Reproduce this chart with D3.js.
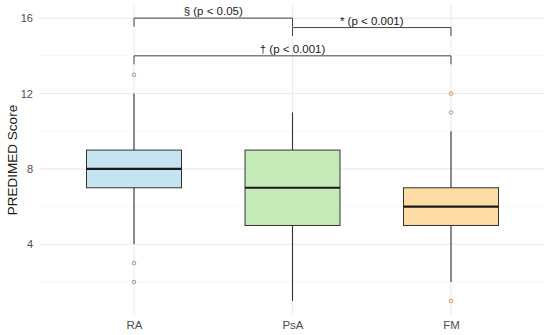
<!DOCTYPE html>
<html><head><meta charset="utf-8">
<script src="https://cdn.jsdelivr.net/npm/d3@7"></script>
<style>body{margin:0;background:#fff;} svg{display:block;font-family:"Liberation Sans",Arial,sans-serif;}</style>
</head><body>
<svg id="c" width="550" height="335"></svg>
<script>
const categories = ["RA", "PsA", "FM"];
const q1 = [7, 5, 5];
const medians = [8, 7, 6];
const q3 = [9, 9, 7];
const whiskerLow = [4, 1, 2];
const whiskerHigh = [12, 11, 10];
const outliers = [[13, 3, 2], [], [12, 11, 1]];
const fills = ["#c5e3f0", "#c6ebb9", "#fedaa4"];
const outlierColors = ["#7ea6b4", "", "#cf9a62"];
const yTicks = [4, 8, 12, 16];
const yMinor = [2, 6, 10, 14];
const brackets = [
  {from: "RA", to: "PsA", y: 16, label: "§ (p < 0.05)"},
  {from: "PsA", to: "FM", y: 15.5, label: "* (p < 0.001)"},
  {from: "RA", to: "FM", y: 14, label: "† (p < 0.001)"}
];

const svg = d3.select("#c");
const pL = 39, pR = 545, pT = 4, pB = 315;
const y = d3.scaleLinear().domain([0.25, 16.75]).range([pB, pT]);
const x = d3.scalePoint().domain(categories).range([134, 451]);
const boxW = 95;

// gridlines
svg.append("g").selectAll("line").data(yMinor).join("line")
  .attr("x1", pL).attr("x2", pR).attr("y1", d => y(d)).attr("y2", d => y(d))
  .attr("stroke", "#f2f2f2").attr("stroke-width", 0.6);
svg.append("g").selectAll("line").data(yTicks).join("line")
  .attr("x1", pL).attr("x2", pR).attr("y1", d => y(d)).attr("y2", d => y(d))
  .attr("stroke", "#ebebeb").attr("stroke-width", 1.1);
svg.append("g").selectAll("line").data(categories).join("line")
  .attr("x1", d => x(d)).attr("x2", d => x(d)).attr("y1", pT).attr("y2", pB)
  .attr("stroke", "#ebebeb").attr("stroke-width", 1.1);

// y axis labels
const yAxis = d3.axisLeft(y).tickValues(yTicks).tickSize(0).tickPadding(6);
const ga = svg.append("g").attr("transform", `translate(${pL},0)`).call(yAxis);
ga.select(".domain").remove();
ga.selectAll("text").attr("font-size", 11).attr("fill", "#4d4d4d").attr("font-family", "Liberation Sans, Arial, sans-serif");

const xAxis = d3.axisBottom(x).tickSize(0).tickPadding(6);
const gx = svg.append("g").attr("transform", `translate(0,${pB})`).call(xAxis);
gx.select(".domain").remove();
gx.selectAll("text").attr("font-size", 11.5).attr("fill", "#4d4d4d").attr("font-family", "Liberation Sans, Arial, sans-serif");

svg.append("text").attr("transform", `translate(17,160) rotate(-90)`)
  .attr("text-anchor", "middle").attr("font-size", 13.5).attr("fill", "#1a1a1a")
  .text("PREDIMED Score");

// boxes
const g = svg.append("g");
categories.forEach((c, i) => {
  const cx = x(c);
  g.append("line").attr("x1", cx).attr("x2", cx).attr("y1", y(whiskerHigh[i])).attr("y2", y(q3[i]))
    .attr("stroke", "#333").attr("stroke-width", 1.1);
  g.append("line").attr("x1", cx).attr("x2", cx).attr("y1", y(q1[i])).attr("y2", y(whiskerLow[i]))
    .attr("stroke", "#333").attr("stroke-width", 1.1);
  g.append("rect").attr("x", cx - boxW / 2).attr("width", boxW)
    .attr("y", y(q3[i])).attr("height", y(q1[i]) - y(q3[i]))
    .attr("fill", fills[i]).attr("stroke", "#333").attr("stroke-width", 1);
  g.append("line").attr("x1", cx - boxW / 2).attr("x2", cx + boxW / 2)
    .attr("y1", y(medians[i])).attr("y2", y(medians[i]))
    .attr("stroke", "#1a1a1a").attr("stroke-width", 2.2);
  g.selectAll(null).data(outliers[i]).join("circle")
    .attr("cx", cx).attr("cy", d => y(d)).attr("r", 1.8)
    .attr("fill", "none").attr("stroke", outlierColors[i]).attr("stroke-width", 1);
});

// brackets
const legLen = 0.45;
brackets.forEach(b => {
  const x1 = x(b.from), x2 = x(b.to);
  const yy = y(b.y), yl = y(b.y - legLen);
  svg.append("path").attr("d", `M${x1},${yl}V${yy}H${x2}V${yl}`)
    .attr("fill", "none").attr("stroke", "#444").attr("stroke-width", 1);
  svg.append("text").attr("x", (x1 + x2) / 2).attr("y", yy - 3)
    .attr("text-anchor", "middle").attr("font-size", 11.5).attr("fill", "#1a1a1a")
    .text(b.label);
});
</script>
</body></html>
